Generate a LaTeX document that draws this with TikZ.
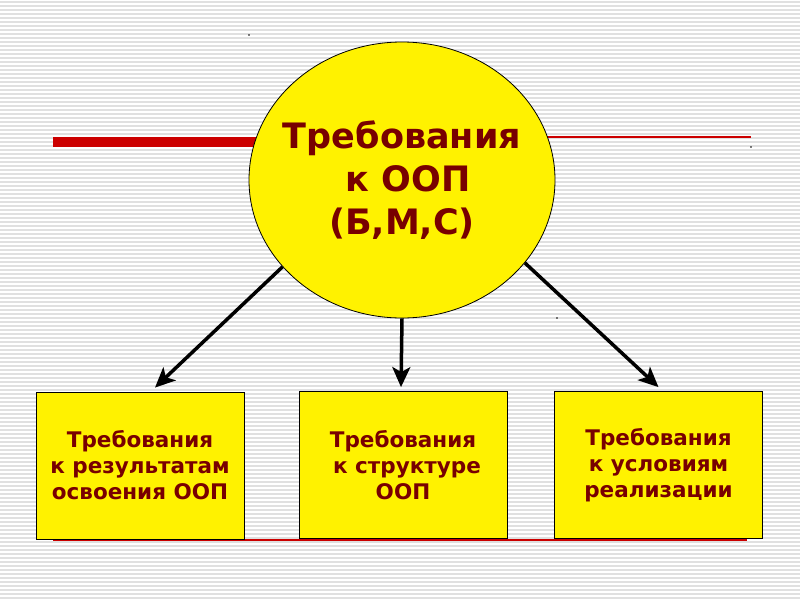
\documentclass[tikz,border=0pt]{standalone}
\usepackage{fontspec}
\setmainfont{DejaVu Sans}
\usetikzlibrary{shapes.geometric, arrows.meta, positioning}
\definecolor{darkred}{RGB}{120,0,0}
\definecolor{linered}{RGB}{204,0,0}
\definecolor{stripe}{RGB}{224,224,224}
\tikzset{
    arrow/.style={line width=3.5pt,-{Stealth[length=20pt,width=18pt,inset=5pt]}},
    redbar/.style={draw=linered, line width=10pt},
    redrule/.style={draw=linered, line width=1.3pt}
}
\begin{document}
\begin{tikzpicture}[x=1pt, y=-1pt,
        goal/.style={ellipse, draw=black, line width=0.8pt, fill=yellow, minimum width=306pt, minimum height=276pt, inner xsep=-30pt, inner ysep=0pt, align=center, text=darkred, font=\fontsize{35}{43}\selectfont\bfseries},
        req/.style={rectangle, draw=black, line width=0.8pt, fill=yellow, minimum width=208pt, minimum height=147pt, align=center, text=darkred, font=\fontsize{21.5}{26}\selectfont\bfseries}
    ]
        % lined background
        \fill[white] (0,0) rectangle (800,600);
        \useasboundingbox (0,0) rectangle (800,600);
        \foreach \y in {2,6,...,600}
            \draw[stripe, line width=1.5pt] (0,\y) -- (800,\y);

        % red rules behind the shapes
        \draw[redbar] (53,142) -- (320,142);
        \draw[redrule] (480,137) -- (751,137);
        \draw[redrule] (53,540) -- (747,540);

        % main requirement
        \node[goal] (oop) at (402,180) {Требования\\\hspace*{12pt}к ООП\\(Б,М,С)};

        % three kinds of requirements
        \node[req] (res) at (140,465.5) {Требования\\к результатам\\освоения ООП};
        \node[req] (str) at (403,465) {Требования\\\hspace*{8pt}к структуре\\ООП};
        \node[req] (cond) at (658.5,465) {Требования\\к условиям\\реализации};

        % arrows
        \draw[arrow] (oop.216) -- ([xshift=15pt,yshift=4pt]res.north);
        \draw[arrow] (oop.south) -- ([xshift=-2pt,yshift=4pt]str.north);
        \draw[arrow] (oop.326) -- ([yshift=4pt]cond.north);

        % stray marks
        \fill (249,35) circle (0.8pt);
        \fill (751,147) circle (0.8pt);
        \fill (557,318) circle (0.8pt);
    \end{tikzpicture}
\end{document}
